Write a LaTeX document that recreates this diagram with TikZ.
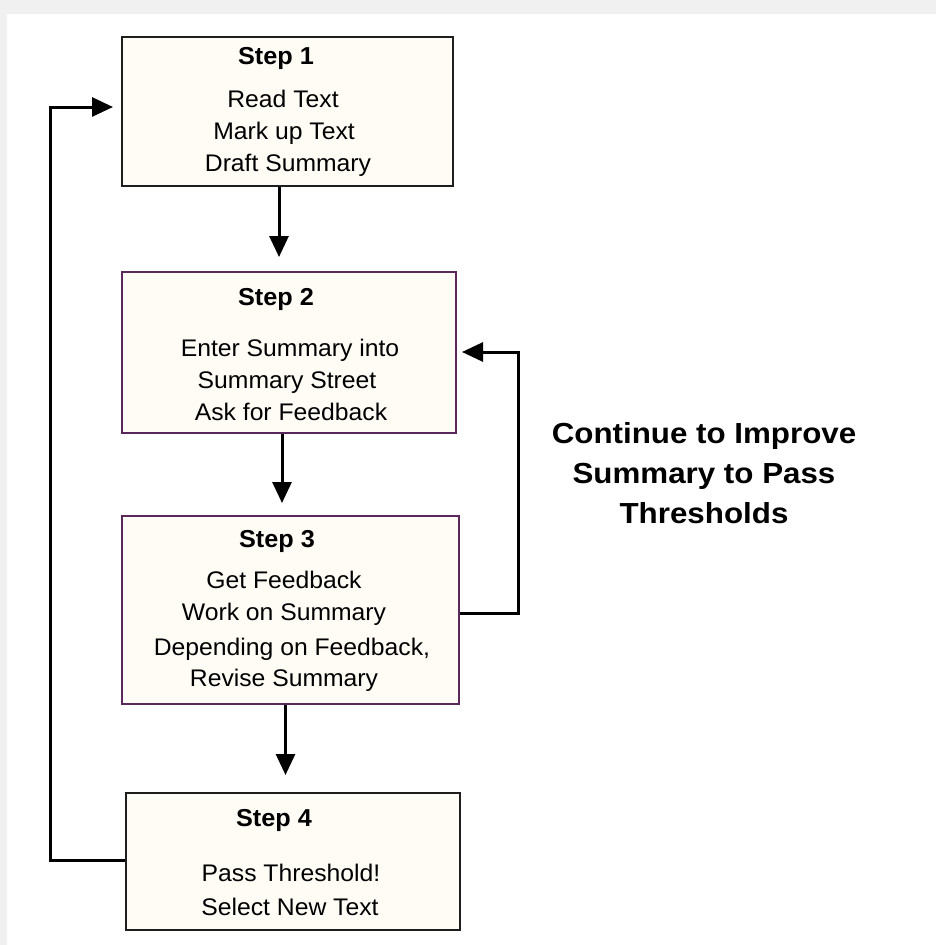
\documentclass[tikz,border=0pt]{standalone}
\usepackage{fontspec}
\setmainfont{Liberation Sans}[FakeStretch=1.03]
\newfontfamily\labelfont{Liberation Sans}[FakeStretch=1.08]
\usetikzlibrary{arrows.meta}
\definecolor{bggrey}{RGB}{240,240,240}
\definecolor{boxfill}{RGB}{255,252,246}
\definecolor{boxdark}{RGB}{30,30,30}
\definecolor{boxpurple}{RGB}{90,40,90}
\tikzset{
  stepbox/.style={draw, fill=boxfill, line width=2pt, anchor=north west, inner sep=0pt},
  steptitle/.style={anchor=base, inner sep=0pt, font=\fontsize{24.5}{30}\selectfont\bfseries},
  steptext/.style={anchor=base, inner sep=0pt, font=\fontsize{24}{32}\selectfont},
  sidetext/.style={anchor=base, inner sep=0pt, font=\labelfont\bfseries\fontsize{29}{40}\selectfont},
  arr/.style={line width=3pt, -{Triangle[length=21pt,width=19pt]}}
}
\begin{document}
\begin{tikzpicture}[x=1pt,y=-1pt]
\useasboundingbox (0,0) rectangle (936,945);
\fill[bggrey] (0,0) rectangle (936,945);
\fill[white] (7,14) rectangle (936,945);

% boxes
\node[stepbox, draw=boxdark, minimum width=331pt, minimum height=149pt] (b1) at (121,36) {};
\node[stepbox, draw=boxpurple, minimum width=334pt, minimum height=161pt] (b2) at (121,271) {};
\node[stepbox, draw=boxpurple, minimum width=337pt, minimum height=188pt] (b3) at (121,515) {};
\node[stepbox, draw=boxdark, minimum width=334pt, minimum height=137pt] (b4) at (125,792) {};

% box 1 text
\node[steptitle] (s1) at (276,64) {Step 1};
\node[steptext] (t1a) at (283,107) {Read Text};
\node[steptext] (t1b) at (284,139.3) {Mark up Text};
\node[steptext] (t1c) at (288,171.7) {Draft Summary};

% box 2 text
\node[steptitle] (s2) at (276,305) {Step 2};
\node[steptext] (t2a) at (290,356.7) {Enter Summary into};
\node[steptext] (t2b) at (287,388.3) {Summary Street};
\node[steptext] (t2c) at (291,420) {Ask for Feedback};

% box 3 text
\node[steptitle] (s3) at (277,547.3) {Step 3};
\node[steptext] (t3a) at (284,588.3) {Get Feedback};
\node[steptext] (t3b) at (284,620) {Work on Summary};
\node[steptext] (t3c) at (292,655) {Depending on Feedback,};
\node[steptext] (t3d) at (284,686.7) {Revise Summary};

% box 4 text
\node[steptitle] (s4) at (274,826) {Step 4};
\node[steptext] (t4a) at (291,881.7) {Pass Threshold!};
\node[steptext] (t4b) at (290,915) {Select New Text};

% side label
\node[sidetext] (c1) at (704,443.3) {Continue to Improve};
\node[sidetext] (c2) at (704,483.3) {Summary to Pass};
\node[sidetext] (c3) at (704,523.3) {Thresholds};

% connector coordinates
\coordinate (tip12) at (279,257);
\coordinate (tip23) at (282,503);
\coordinate (tip34) at (285.5,775);
\coordinate (out4) at (125,860);
\coordinate (left) at (50,107);
\coordinate (tip41) at (113,107);
\coordinate (out3) at (458,613);
\coordinate (right) at (518,352);
\coordinate (tip32) at (462,352);

% connectors
\draw[arr] (b1.south -| tip12) -- (tip12);
\draw[arr] (b2.south -| tip23) -- (tip23);
\draw[arr] (b3.south -| tip34) -- (tip34);
\draw[arr] (b4.west |- out4) -| (left) -- (tip41);
\draw[arr] (b3.east |- out3) -| (right) -- (tip32);
\end{tikzpicture}
\end{document}
